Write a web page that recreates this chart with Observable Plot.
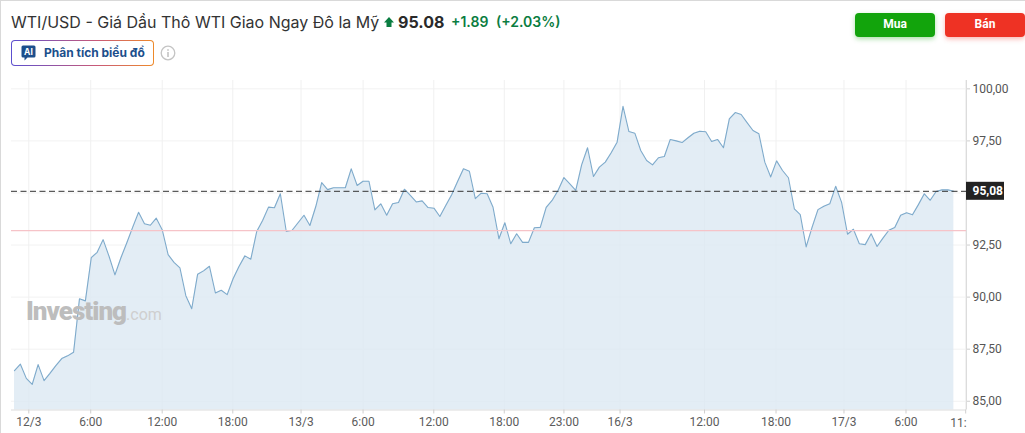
<!DOCTYPE html>
<html lang="vi">
<head>
<meta charset="utf-8">
<script src="https://cdn.jsdelivr.net/npm/d3@7"></script>
<script src="https://cdn.jsdelivr.net/npm/@observablehq/plot@0.6"></script>
<style>
html,body{margin:0;padding:0;background:#fff;overflow:hidden}
#page{position:relative;width:1025px;height:433px;overflow:hidden;font-family:Inter,sans-serif}
#page>*{position:absolute}
.edgeT{left:0;top:0;width:1025px;height:1px;background:#d9d9d9}
.edgeL{left:0;top:0;width:1px;height:433px;background:#d9d9d9}
#title{left:11px;top:12px;font-size:16px;line-height:20px;color:#333;white-space:nowrap}
#arrow{left:384px;top:16px}
#price{left:398px;top:11px;font-size:16px;line-height:22px;font-weight:700;color:#2a2a2a}
#chg{left:451px;top:13px;font-size:14px;line-height:18px;font-weight:600;color:#0a7d41;white-space:nowrap}
#chgp{left:496px;top:13px;font-size:14px;line-height:18px;font-weight:600;color:#0a7d41;white-space:nowrap}
#ai{left:11px;top:40px;width:143px;height:26px;box-sizing:border-box;border:1px solid transparent;border-radius:4px;
 background:linear-gradient(#fff,#fff) padding-box,linear-gradient(90deg,#5b4fd0,#c95a78 60%,#ee8a2a) border-box}
#aiicon{left:21px;top:45px}
#aitext{left:44px;top:45px;font-size:12px;line-height:15px;font-weight:700;color:#1c4f8c;white-space:nowrap}
#info{left:160px;top:45px}
.btn{top:13px;width:80px;height:24px;border-radius:4px;color:#fff;font:700 12px/23px Roboto,sans-serif;text-align:center}
#buy{left:855px;background:#12a40c;box-shadow:0 2px 5px rgba(18,164,12,.35)}
#sell{left:945px;background:#ee3224;box-shadow:0 2px 5px rgba(238,50,36,.35)}
#chart{left:0;top:69.5px}
#chart svg{display:block;overflow:visible}
#wm{left:26px;top:296px;color:#bdbdbd;font:900 26px/30px Roboto,sans-serif;letter-spacing:-1px;white-space:nowrap}
#wm span{font:400 16px/30px Roboto,sans-serif;letter-spacing:0;color:#cfcfcf}
</style>
</head>
<body>
<div id="page">
  <div id="chart"></div>
  <div class="edgeT"></div><div class="edgeL"></div>
  <div id="title">WTI/USD - Giá Dầu Thô WTI Giao Ngay Đô la Mỹ</div>
  <svg id="arrow" width="10" height="12" viewBox="0 0 10 12"><path d="M5 1 L10 6.5 H7.5 V11 H2.5 V6.5 H0 Z" fill="#0a7d41"/></svg>
  <div id="price">95.08</div>
  <div id="chg">+1.89</div>
  <div id="chgp">(+2.03%)</div>
  <div id="ai"></div>
  <svg id="aiicon" width="15" height="17" viewBox="0 0 15 17"><path d="M2 0.5H13a1.5 1.5 0 0 1 1.5 1.5V11a1.5 1.5 0 0 1-1.5 1.5H6.5L3.5 15.5V12.5H2A1.5 1.5 0 0 1 .5 11V2A1.5 1.5 0 0 1 2 .5Z" fill="#1c4f8c"/><text x="7.4" y="10" text-anchor="middle" font-size="8.5" font-weight="700" fill="#fff" font-family="Inter,sans-serif">AI</text></svg>
  <div id="aitext">Phân tích biểu đồ</div>
  <svg id="info" width="16" height="16" viewBox="0 0 16 16"><circle cx="8" cy="8" r="6.8" fill="none" stroke="#c4c4c4" stroke-width="1.3"/><rect x="7.2" y="7" width="1.6" height="5" fill="#c4c4c4"/><rect x="7.2" y="4.2" width="1.6" height="1.6" fill="#c4c4c4"/></svg>
  <div id="buy" class="btn">Mua</div>
  <div id="sell" class="btn">Bán</div>
  <div id="wm">Investing<span>.com</span></div>
</div>
<script>
const prices = [
86.47,86.78,86.10,85.81,86.76,85.99,86.34,86.71,87.05,87.18,
87.35,89.92,89.82,91.90,92.15,92.76,91.96,91.07,91.88,92.60,
93.35,94.07,93.52,93.45,93.79,93.24,92.04,91.67,91.40,90.07,
89.44,91.10,91.26,91.48,90.20,90.33,90.12,90.88,91.47,91.98,
91.82,93.15,93.68,94.32,94.29,94.96,93.15,93.21,93.57,93.93,
93.44,94.35,95.50,95.16,95.25,95.25,95.25,96.16,95.36,95.56,
95.56,94.19,94.48,93.93,94.48,94.54,95.18,94.88,94.57,94.62,
94.30,94.27,93.87,94.40,94.91,95.55,96.16,96.04,94.73,94.99,
94.96,94.31,92.80,93.57,92.56,93.04,92.63,92.63,93.33,93.35,
94.31,94.64,95.12,95.74,95.44,95.12,96.35,97.17,95.79,96.24,
96.48,96.93,97.44,99.16,97.95,97.87,97.04,96.56,96.35,96.69,
96.75,97.57,97.50,97.42,97.65,97.87,97.96,97.94,97.47,97.57,
97.17,98.56,98.86,98.77,98.38,98.00,97.84,96.48,95.77,96.54,
96.08,95.73,94.24,93.96,92.41,93.35,94.20,94.36,94.48,95.32,
94.55,93.02,93.26,92.56,92.52,93.04,92.43,92.83,93.21,93.34,
93.93,94.05,93.95,94.44,94.96,94.65,95.07,95.15,95.15,95.08];
const yTicks = [85,87.5,90,92.5,95,97.5,100];
const xTickPos = [2.42,12.9,25,36.95,48.5,59,70.97,82.9,93,102.5,116.8,128.9,140.4,150.9];
const xTickLabels = ["12/3","6:00","12:00","18:00","13/3","6:00","12:00","18:00","23:00","16/3","12:00","18:00","17/3","6:00"];
const lastTickPos = 161;
const lastTickLabel = "11:";
const lastPrice = 95.08;
const prevClose = 93.19;

const rows = prices.map((v,i)=>({i,v}));
const xMin = -0.508, xMax = 161.14, yMin = 84.58, yMax = 100.40;
const font = "Roboto, sans-serif";
const fmt = d => d.toFixed(2).replace(".",",");
const labelOf = d => xTickLabels[xTickPos.indexOf(d)] ?? "";

const plot = Plot.plot({
  width:1025, height:363,
  marginLeft:11, marginRight:59, marginTop:10, marginBottom:23.5,
  style:{fontFamily:font, background:"transparent", overflow:"visible"},
  x:{domain:[xMin,xMax], axis:null},
  y:{domain:[yMin,yMax], axis:null},
  marks:[
    Plot.ruleY(yTicks,{stroke:"#f2f2f2",strokeWidth:1}),
    Plot.ruleX(xTickPos.concat([lastTickPos]),{stroke:"#f0f0f0",strokeWidth:1}),
    Plot.areaY(rows,{x:"i",y1:yMin,y2:"v",fill:"#dce8f2",fillOpacity:0.8}),
    Plot.lineY(rows,{x:"i",y:"v",stroke:"#7eaacb",strokeWidth:1.1}),
    Plot.ruleY([prevClose],{stroke:"#f6c3c8",strokeWidth:1.2}),
    Plot.ruleY([lastPrice],{stroke:"#333",strokeWidth:1,strokeDasharray:"6,3.5"}),
    Plot.ruleY([yMin],{stroke:"#dcdcdc",strokeWidth:1}),
    Plot.ruleX([xMax],{stroke:"#dcdcdc",strokeWidth:1}),
    Plot.axisX({ticks:xTickPos.concat([lastTickPos]),anchor:"bottom",label:null,tickSize:4,tickPadding:3,tickFormat:labelOf,fontSize:12,stroke:"#cfcfcf",color:"#5c5c5c",fontFamily:font}),
    Plot.text([lastTickLabel],{x:lastTickPos,frameAnchor:"bottom",textAnchor:"end",dx:1,dy:16.5,fontSize:12,fill:"#5c5c5c"}),
    Plot.axisY({ticks:yTicks,anchor:"right",label:null,tickSize:3,tickPadding:3,tickFormat:fmt,fontSize:12,stroke:"#cfcfcf",color:"#555",fontFamily:font}),
    Plot.rect([lastPrice],{x1:xMax,x2:xMax,y1:d=>d,y2:d=>d,insetRight:-38,insetTop:-9,insetBottom:-9,fill:"#222"}),
    Plot.text([lastPrice],{x:xMax,y:d=>d,text:fmt,textAnchor:"start",dx:6,fill:"#fff",fontWeight:700,fontSize:12})
  ]
});
document.getElementById("chart").appendChild(plot);
</script>
</body>
</html>
